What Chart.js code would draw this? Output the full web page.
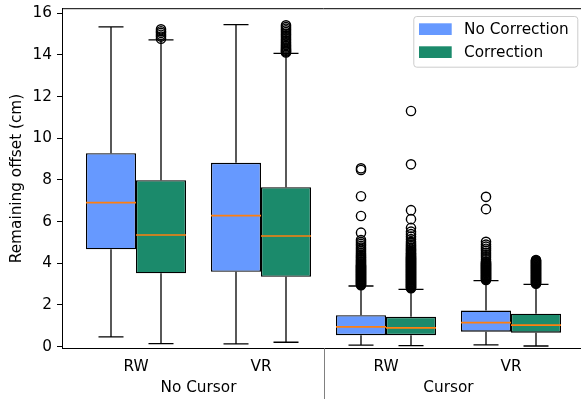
<!DOCTYPE html>
<html>
<head>
<meta charset="utf-8">
<script src="https://cdn.jsdelivr.net/npm/chart.js@4/dist/chart.umd.min.js"></script>
<style>
  html, body { margin: 0; padding: 0; background: #fff; overflow: hidden; }
</style>
</head>
<body>
<canvas id="chart" width="600" height="399"></canvas>
<script>
// categories
const envLabels = ["RW", "VR", "RW", "VR"];
const cursorGroups = ["No Cursor", "Cursor"];
const seriesNames = ["No Correction", "Correction"];
const seriesColors = ["#6699ff", "#1b8a6b"];
const yTicks = [0, 2, 4, 6, 8, 10, 12, 14, 16];

// No Correction boxes
const noCorrLow = [0.47, 0.13, 0.07, 0.08];
const noCorrQ1 = [4.67, 3.59, 0.55, 0.72];
const noCorrMed = [6.91, 6.29, 0.95, 1.15];
const noCorrQ3 = [9.28, 8.82, 1.51, 1.73];
const noCorrHigh = [15.35, 15.46, 2.91, 3.17];
const noCorrOut = [
  [],
  [],
  [2.95, 2.98, 3.01, 3.04, 3.07, 3.1, 3.13, 3.16, 3.19, 3.22, 3.25, 3.28, 3.31, 3.34, 3.37,
   3.4, 3.43, 3.46, 3.49, 3.52, 3.55, 3.58, 3.61, 3.64, 3.67, 3.7, 3.73, 3.76, 3.79, 3.82,
   3.85, 3.88, 3.91, 3.95, 4.0, 4.05, 4.1, 4.15, 4.2, 4.25, 4.3, 4.36, 4.42, 4.5, 4.58,
   4.66, 4.75, 4.84, 4.93, 5.02, 5.12, 5.47, 6.27, 7.22, 8.48, 8.56],
  [3.2, 3.23, 3.26, 3.29, 3.32, 3.35, 3.38, 3.41, 3.44, 3.47, 3.5, 3.53, 3.56, 3.59, 3.62,
   3.65, 3.68, 3.71, 3.74, 3.77, 3.8, 3.83, 3.86, 3.89, 3.92, 3.95, 3.98, 4.01, 4.05, 4.1,
   4.2, 4.3, 4.4, 4.5, 4.6, 4.7, 4.8, 4.9, 5.03, 6.6, 7.19]
];

// Correction boxes
const corrLow = [0.14, 0.21, 0.05, 0.03];
const corrQ1 = [3.52, 3.35, 0.55, 0.67];
const corrMed = [5.36, 5.31, 0.90, 1.03];
const corrQ3 = [7.99, 7.65, 1.43, 1.58];
const corrHigh = [14.72, 14.08, 2.75, 2.99];
const corrOut = [
  [14.78, 14.88, 14.97, 15.06, 15.14, 15.23],
  [14.12, 14.16, 14.2, 14.25, 14.3, 14.36, 14.42, 14.48, 14.55, 14.62, 14.7, 14.78, 14.86,
   14.94, 15.02, 15.1, 15.18, 15.26, 15.34, 15.42],
  [2.8, 2.83, 2.86, 2.89, 2.92, 2.95, 2.98, 3.01, 3.04, 3.07, 3.1, 3.13, 3.16, 3.19, 3.22,
   3.25, 3.28, 3.31, 3.34, 3.37, 3.4, 3.43, 3.46, 3.49, 3.52, 3.55, 3.58, 3.61, 3.64, 3.67,
   3.7, 3.73, 3.76, 3.79, 3.82, 3.85, 3.88, 3.91, 3.94, 3.97, 4.0, 4.03, 4.06, 4.09, 4.12,
   4.15, 4.18, 4.21, 4.24, 4.27, 4.3, 4.34, 4.38, 4.42, 4.46, 4.5, 4.55, 4.6, 4.65, 4.7,
   4.76, 4.82, 4.88, 4.95, 5.03, 5.16, 5.28, 5.4, 5.52, 5.7, 6.12, 6.55, 8.75, 11.31],
  [3.02, 3.05, 3.08, 3.11, 3.14, 3.17, 3.2, 3.23, 3.26, 3.29, 3.32, 3.35, 3.38, 3.41, 3.44,
   3.47, 3.5, 3.53, 3.56, 3.59, 3.62, 3.65, 3.68, 3.71, 3.74, 3.77, 3.8, 3.83, 3.86, 3.89,
   3.92, 3.95, 3.98, 4.01, 4.04, 4.07, 4.1, 4.13, 4.16]
];

const FONT = { family: "DejaVu Sans", size: 15.3 };
Chart.defaults.font.family = FONT.family;
Chart.defaults.font.size = FONT.size;
Chart.defaults.color = "#000";

const series = [
  { off: -0.2, low: noCorrLow, q1: noCorrQ1, med: noCorrMed, q3: noCorrQ3, high: noCorrHigh, out: noCorrOut },
  { off: 0.2, low: corrLow, q1: corrQ1, med: corrMed, q3: corrQ3, high: corrHigh, out: corrOut }
];

// boxes as floating bars, fliers as scatter points
const datasets = [];
series.forEach((s, k) => {
  datasets.push({
    type: "bar",
    label: seriesNames[k],
    data: envLabels.map((_, i) => ({ x: i, y: [s.q1[i], s.q3[i]] })),
    backgroundColor: seriesColors[k],
    borderColor: "#000",
    borderWidth: 1.3,
    borderSkipped: false,
    categoryPercentage: 0.8,
    barPercentage: 1.0
  });
});
series.forEach((s, k) => {
  const pts = [];
  s.out.forEach((vals, i) => vals.forEach(v => pts.push({ x: i + s.off, y: v })));
  datasets.push({
    type: "scatter",
    label: seriesNames[k] + " fliers",
    data: pts,
    pointRadius: 4.6,
    pointBorderWidth: 1.4,
    pointBorderColor: "#000",
    pointBackgroundColor: "rgba(0,0,0,0)",
    showLine: false
  });
});

const boxParts = {
  id: "boxParts",
  afterDatasetsDraw(chart) {
    const { ctx, scales: { x, y } } = chart;
    ctx.save();
    series.forEach(s => {
      s.med.forEach((m, i) => {
        const cx = x.getPixelForValue(i + s.off);
        const cl = x.getPixelForValue(i + s.off - 0.1);
        const cr = x.getPixelForValue(i + s.off + 0.1);
        const hi = y.getPixelForValue(s.high[i]);
        const lo = y.getPixelForValue(s.low[i]);
        ctx.strokeStyle = "#000";
        ctx.lineWidth = 1.3;
        ctx.beginPath();
        ctx.moveTo(cx, y.getPixelForValue(s.q3[i])); ctx.lineTo(cx, hi);
        ctx.moveTo(cx, y.getPixelForValue(s.q1[i])); ctx.lineTo(cx, lo);
        ctx.moveTo(cl, hi); ctx.lineTo(cr, hi);
        ctx.moveTo(cl, lo); ctx.lineTo(cr, lo);
        ctx.stroke();
        // median
        const bl = x.getPixelForValue(i + s.off - 0.2);
        const br = x.getPixelForValue(i + s.off + 0.2);
        const my = y.getPixelForValue(m);
        ctx.strokeStyle = "#ff7f0e";
        ctx.lineWidth = 1.6;
        ctx.beginPath();
        ctx.moveTo(bl, my); ctx.lineTo(br, my);
        ctx.stroke();
      });
    });
    ctx.restore();
  },
  afterDraw(chart) {
    const { ctx, chartArea: a, scales: { x } } = chart;
    ctx.save();
    // frame top/right
    ctx.strokeStyle = "#000";
    ctx.lineWidth = 1;
    ctx.beginPath();
    ctx.moveTo(a.left, a.top); ctx.lineTo(a.right, a.top); ctx.lineTo(a.right, a.bottom);
    ctx.stroke();
    // separator between cursor groups
    const sx = Math.round(x.getPixelForValue(1.5)) + 0.5;
    ctx.strokeStyle = "#808080";
    ctx.beginPath();
    ctx.moveTo(sx, a.bottom); ctx.lineTo(sx, chart.height);
    ctx.stroke();
    // group labels
    ctx.fillStyle = "#000";
    ctx.font = FONT.size + "px " + FONT.family;
    ctx.textAlign = "center";
    ctx.textBaseline = "middle";
    cursorGroups.forEach((g, k) => {
      ctx.fillText(g, x.getPixelForValue(k * 2 + 0.5), a.bottom + 39.5);
    });
    // legend
    const lx = a.right - 7.7 - 164, ly = a.top + 7.3, lw = 164, lh = 50.7;
    ctx.fillStyle = "rgba(255,255,255,0.8)";
    ctx.strokeStyle = "#cccccc";
    ctx.beginPath();
    ctx.roundRect(lx + 0.5, ly + 0.5, lw, lh, 3);
    ctx.fill();
    ctx.stroke();
    seriesNames.forEach((n, k) => {
      const ry = ly + 7.3 + k * 23;
      ctx.fillStyle = seriesColors[k];
      ctx.fillRect(lx + 5.7, ry, 32.7, 11.7);
      ctx.fillStyle = "#000";
      ctx.textAlign = "left";
      ctx.fillText(n, lx + 50.7, ry + 6.5);
    });
    ctx.restore();
  }
};

new Chart(document.getElementById("chart"), {
  type: "bar",
  data: { datasets },
  options: {
    responsive: false,
    animation: false,
    events: [],
    layout: { padding: { top: 8.7, right: 15, left: 0, bottom: 0 } },
    plugins: { legend: { display: false }, tooltip: { enabled: false } },
    scales: {
      x: {
        type: "linear",
        min: -0.592,
        max: 3.592,
        offset: false,
        afterBuildTicks: s => { s.ticks = envLabels.map((_, i) => ({ value: i })); },
        afterFit: s => { s.height = 50.7; s.paddingLeft = 0; s.paddingRight = 0; },
        ticks: { callback: v => envLabels[v], padding: 10, maxRotation: 0, color: "#000" },
        grid: { display: true, drawOnChartArea: false, drawTicks: false },
        border: { display: true, color: "#000", width: 1 }
      },
      y: {
        type: "linear",
        min: -0.08,
        max: 16.22,
        afterBuildTicks: s => { s.ticks = yTicks.map(v => ({ value: v })); },
        afterFit: s => { s.width = 62; s.paddingTop = 0; s.paddingBottom = 0; },
        ticks: { padding: 5, color: "#000" },
        grid: { display: true, drawOnChartArea: false, drawTicks: true, tickLength: 5, tickColor: "#000", tickWidth: 1 },
        border: { display: true, color: "#000", width: 1 },
        title: { display: true, text: "Remaining offset (cm)", color: "#000", font: FONT, padding: { top: 7.5, bottom: 0 } }
      }
    }
  },
  plugins: [boxParts]
});
</script>
</body>
</html>
